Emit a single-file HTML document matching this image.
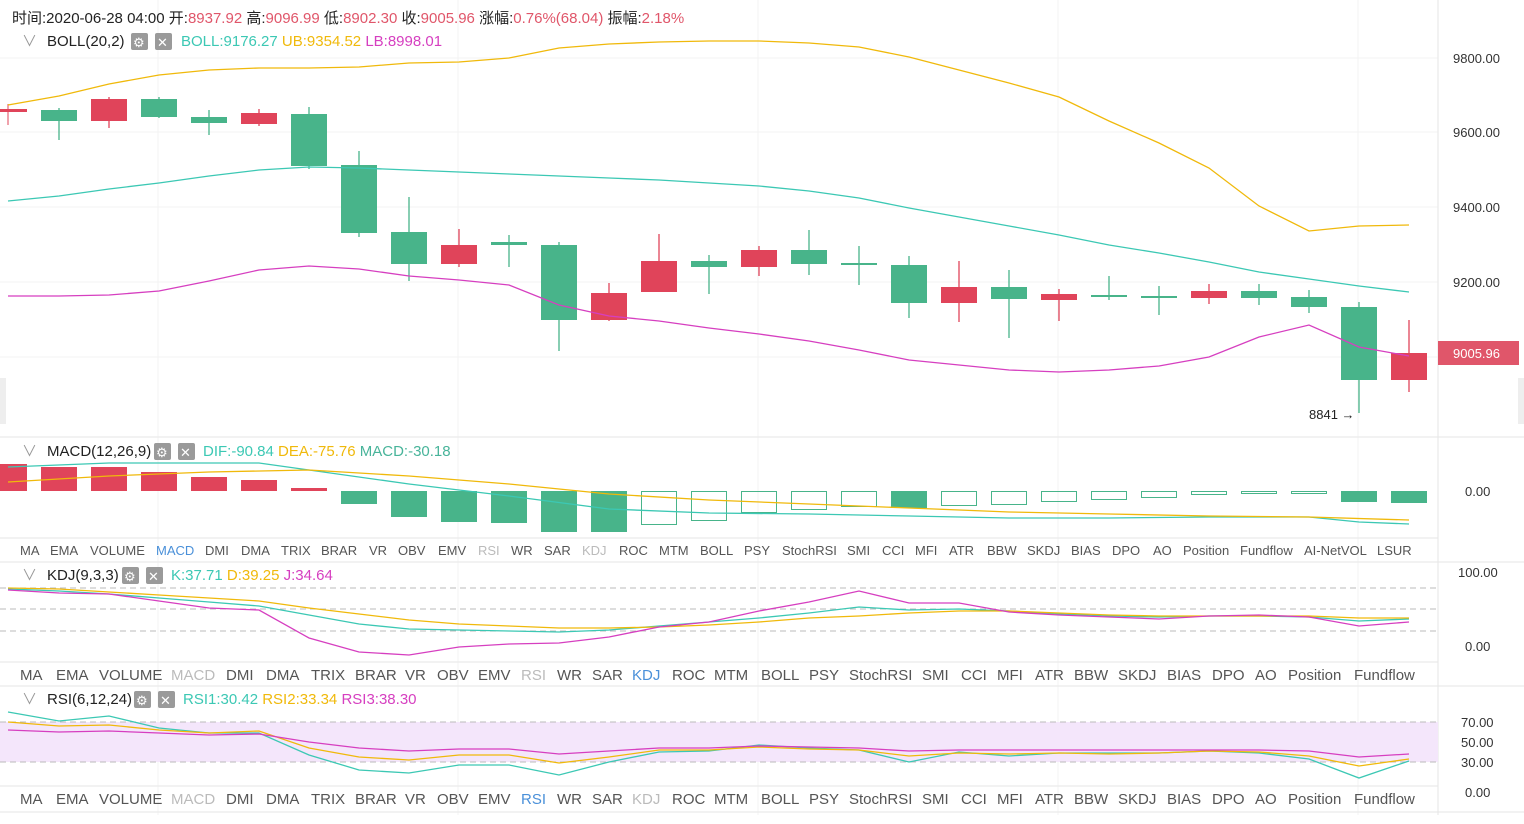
<!DOCTYPE html>
<html><head><meta charset="utf-8"><style>
html,body{margin:0;padding:0;background:#fff;}
body{width:1524px;height:819px;overflow:hidden;font-family:"Liberation Sans","Noto Sans CJK SC",sans-serif;}
svg text{font-family:"Liberation Sans","Noto Sans CJK SC",sans-serif;}
</style></head><body>
<svg id="s" width="1524" height="819" xmlns="http://www.w3.org/2000/svg">
<rect width="1524" height="819" fill="#fff"/>
<g stroke="#f3f3f3" stroke-width="1">
<line x1="0" y1="58" x2="1438" y2="58"/><line x1="0" y1="132" x2="1438" y2="132"/><line x1="0" y1="207" x2="1438" y2="207"/><line x1="0" y1="282" x2="1438" y2="282"/><line x1="0" y1="357" x2="1438" y2="357"/>
<line x1="158" y1="0" x2="158" y2="815"/><line x1="458" y1="0" x2="458" y2="815"/><line x1="758" y1="0" x2="758" y2="815"/><line x1="1058" y1="0" x2="1058" y2="815"/><line x1="1358" y1="0" x2="1358" y2="815"/>
</g>
<g stroke="#e6e6e6"><line x1="1438" y1="0" x2="1438" y2="815"/>
<line x1="0" y1="437" x2="1524" y2="437"/><line x1="0" y1="538" x2="1438" y2="538"/><line x1="0" y1="562" x2="1524" y2="562"/>
<line x1="0" y1="662" x2="1438" y2="662"/><line x1="0" y1="686" x2="1524" y2="686"/><line x1="0" y1="786" x2="1438" y2="786"/><line x1="0" y1="812" x2="1524" y2="812"/></g>
<rect x="0" y="722" width="1438" height="40" fill="#f4e6fb"/>
<g stroke="#bbb" stroke-dasharray="6,4"><line x1="0" y1="722" x2="1438" y2="722"/><line x1="0" y1="762" x2="1438" y2="762"/>
<line x1="0" y1="588" x2="1438" y2="588"/><line x1="0" y1="609" x2="1438" y2="609"/><line x1="0" y1="631" x2="1438" y2="631"/></g>
<g id="cand"></g>
<g fill="none" stroke-width="1.3">
<polyline stroke="#f0b90b" points="8,105 59,96 109,84 159,75 209,70 259,68 309,68 359,67 409,63 459,62 509,58 559,48 609,44 659,42 709,41 759,41 809,43 859,47 909,57 959,70 1009,83 1059,97 1109,121 1159,143 1209,168 1259,206 1309,231 1359,226 1409,225"/>
<polyline stroke="#3cc8b4" points="8,201 59,196 109,189 159,183 209,176 259,170 309,167 359,168 409,170 459,172 509,174 559,176 609,178 659,180 709,183 759,186 809,191 859,198 909,208 959,217 1009,226 1059,235 1109,245 1159,253 1209,262 1259,272 1309,279 1359,286 1409,292"/>
<polyline stroke="#d63fc0" points="8,296 59,296 109,295 159,291 209,281 259,270 309,266 359,269 409,276 459,280 509,285 559,305 609,316 659,321 709,328 759,334 809,341 859,350 909,360 959,365 1009,370 1059,372 1109,370 1159,366 1209,357 1259,337 1309,325 1359,347 1409,356"/>
<polyline stroke="#3cc8b4" points="8,467 109,463 209,463 259,463 309,470 409,484 509,496 609,509 709,513 809,514 909,516 1009,518 1109,518 1209,517 1309,517 1359,522 1409,524"/>
<polyline stroke="#f0b90b" points="8,482 109,476 209,472 309,470 409,476 509,484 609,494 709,500 809,504 909,508 1009,512 1109,514 1209,516 1309,517 1409,520"/>
<polyline stroke="#3cc8b4" points="8,589 59,591 109,594 159,598 209,602 259,606 309,615 359,624 409,629 459,630 509,631 559,632 609,630 659,626 709,622 759,618 809,613 859,607 909,610 959,609 1009,611 1059,614 1109,616 1159,617 1209,616 1259,616 1309,617 1359,621 1409,619"/>
<polyline stroke="#f0b90b" points="8,588 59,589 109,592 159,595 209,598 259,601 309,608 359,614 409,620 459,624 509,626 559,628 609,628 659,627 709,625 759,622 809,618 859,616 909,613 959,611 1009,611 1059,613 1109,615 1159,616 1209,616 1259,616 1309,616 1359,618 1409,618"/>
<polyline stroke="#d63fc0" points="8,590 59,593 109,594 159,601 209,608 259,610 309,638 359,652 409,655 459,647 509,644 559,643 609,637 659,627 709,622 759,611 809,602 859,591 909,603 959,603 1009,612 1059,615 1109,617 1159,619 1209,616 1259,615 1309,617 1359,626 1409,622"/>
<polyline stroke="#3cc8b4" points="8,712 59,721 109,716 159,728 209,733 259,733 309,755 359,770 409,773 459,765 509,765 559,775 609,762 659,752 709,751 759,745 809,748 859,750 909,762 959,752 1009,756 1059,753 1109,753 1159,753 1209,751 1259,753 1309,759 1359,778 1409,761"/>
<polyline stroke="#f0b90b" points="8,722 59,726 109,725 159,730 209,733 259,731 309,748 359,757 409,760 459,755 509,755 559,763 609,757 659,750 709,750 759,747 809,749 859,750 909,756 959,753 1009,754 1059,753 1109,754 1159,753 1209,751 1259,752 1309,756 1359,766 1409,759"/>
<polyline stroke="#d63fc0" points="8,730 59,732 109,731 159,733 209,735 259,734 309,742 359,748 409,751 459,749 509,749 559,754 609,751 659,748 709,748 759,746 809,747 859,748 909,751 959,750 1009,750 1059,750 1109,750 1159,750 1209,750 1259,750 1309,751 1359,757 1409,754"/>
</g>
<g font-size="13" fill="#333">
<text x="1453" y="63">9800.00</text><text x="1453" y="137">9600.00</text><text x="1453" y="212">9400.00</text><text x="1453" y="287">9200.00</text>
<text x="1465" y="496">0.00</text><text x="1458" y="577">100.00</text><text x="1465" y="651">0.00</text>
<text x="1461" y="727">70.00</text><text x="1461" y="747">50.00</text><text x="1461" y="767">30.00</text><text x="1465" y="797">0.00</text>
</g>
<rect x="1438" y="341" width="81" height="24" fill="#e0566a"/>
<text x="1453" y="358" font-size="13" fill="#fff">9005.96</text>
<text x="1309" y="419" font-size="13" fill="#222">8841 →</text>
<g font-size="15">
<text x="12" y="23" fill="#222">时间:2020-06-28 04:00 开:<tspan fill="#e0566a">8937.92</tspan> 高:<tspan fill="#e0566a">9096.99</tspan> 低:<tspan fill="#e0566a">8902.30</tspan> 收:<tspan fill="#e0566a">9005.96</tspan> 涨幅:<tspan fill="#e0566a">0.76%(68.04)</tspan> 振幅:<tspan fill="#e0566a">2.18%</tspan></text>
<text x="22" y="46" fill="#999">∨</text><text x="47" y="46" fill="#222">BOLL(20,2)</text>
<text x="181" y="46" fill="#3cc8b4">BOLL:9176.27 <tspan fill="#f0b90b">UB:9354.52</tspan> <tspan fill="#d63fc0">LB:8998.01</tspan></text>
<text x="22" y="456" fill="#999">∨</text><text x="47" y="456" fill="#222">MACD(12,26,9)</text>
<text x="203" y="456" fill="#3cc8b4">DIF:-90.84 <tspan fill="#f0b90b">DEA:-75.76</tspan> <tspan fill="#48b49a">MACD:-30.18</tspan></text>
<text x="22" y="580" fill="#999">∨</text><text x="47" y="580" fill="#222">KDJ(9,3,3)</text>
<text x="171" y="580" fill="#3cc8b4">K:37.71 <tspan fill="#f0b90b">D:39.25</tspan> <tspan fill="#d63fc0">J:34.64</tspan></text>
<text x="22" y="704" fill="#999">∨</text><text x="47" y="704" fill="#222">RSI(6,12,24)</text>
<text x="183" y="704" fill="#3cc8b4">RSI1:30.42 <tspan fill="#f0b90b">RSI2:33.34</tspan> <tspan fill="#d63fc0">RSI3:38.30</tspan></text>
</g>
<g fill="#9a9a9a">
<rect x="131" y="33" width="17" height="17" rx="2"/><rect x="155" y="33" width="17" height="17" rx="2"/>
<rect x="154" y="443" width="17" height="17" rx="2"/><rect x="178" y="443" width="17" height="17" rx="2"/>
<rect x="122" y="567" width="17" height="17" rx="2"/><rect x="146" y="567" width="17" height="17" rx="2"/>
<rect x="134" y="691" width="17" height="17" rx="2"/><rect x="158" y="691" width="17" height="17" rx="2"/>
</g>
<g font-size="13" fill="#fff"><text x="157" y="47">✕</text><text x="180" y="457">✕</text><text x="148" y="581">✕</text><text x="160" y="705">✕</text>
<text x="133" y="47">⚙</text><text x="156" y="457">⚙</text><text x="124" y="581">⚙</text><text x="136" y="705">⚙</text></g>
<g font-size="13" fill="#555">
<text x="20" y="555">MA</text><text x="50" y="555">EMA</text><text x="90" y="555">VOLUME</text><text x="156" y="555" fill="#4a90d9">MACD</text><text x="205" y="555">DMI</text><text x="241" y="555">DMA</text><text x="281" y="555">TRIX</text><text x="321" y="555">BRAR</text><text x="369" y="555">VR</text><text x="398" y="555">OBV</text><text x="438" y="555">EMV</text><text x="478" y="555" fill="#bbb">RSI</text><text x="511" y="555">WR</text><text x="544" y="555">SAR</text><text x="582" y="555" fill="#bbb">KDJ</text><text x="619" y="555">ROC</text><text x="659" y="555">MTM</text><text x="700" y="555">BOLL</text><text x="744" y="555">PSY</text><text x="782" y="555">StochRSI</text><text x="847" y="555">SMI</text><text x="882" y="555">CCI</text><text x="915" y="555">MFI</text><text x="949" y="555">ATR</text><text x="987" y="555">BBW</text><text x="1027" y="555">SKDJ</text><text x="1071" y="555">BIAS</text><text x="1112" y="555">DPO</text><text x="1153" y="555">AO</text><text x="1183" y="555">Position</text><text x="1240" y="555">Fundflow</text><text x="1304" y="555">AI-NetVOL</text><text x="1377" y="555">LSUR</text>
</g>
<g font-size="15" fill="#555">
<text x="20" y="680">MA</text><text x="56" y="680">EMA</text><text x="99" y="680">VOLUME</text><text x="171" y="680" fill="#bbb">MACD</text><text x="226" y="680">DMI</text><text x="266" y="680">DMA</text><text x="311" y="680">TRIX</text><text x="355" y="680">BRAR</text><text x="405" y="680">VR</text><text x="437" y="680">OBV</text><text x="478" y="680">EMV</text><text x="521" y="680" fill="#bbb">RSI</text><text x="557" y="680">WR</text><text x="592" y="680">SAR</text><text x="632" y="680" fill="#4a90d9">KDJ</text><text x="672" y="680">ROC</text><text x="714" y="680">MTM</text><text x="761" y="680">BOLL</text><text x="809" y="680">PSY</text><text x="849" y="680">StochRSI</text><text x="922" y="680">SMI</text><text x="961" y="680">CCI</text><text x="997" y="680">MFI</text><text x="1035" y="680">ATR</text><text x="1074" y="680">BBW</text><text x="1118" y="680">SKDJ</text><text x="1167" y="680">BIAS</text><text x="1212" y="680">DPO</text><text x="1255" y="680">AO</text><text x="1288" y="680">Position</text><text x="1354" y="680">Fundflow</text>
</g>
<g font-size="15" fill="#555">
<text x="20" y="804">MA</text><text x="56" y="804">EMA</text><text x="99" y="804">VOLUME</text><text x="171" y="804" fill="#bbb">MACD</text><text x="226" y="804">DMI</text><text x="266" y="804">DMA</text><text x="311" y="804">TRIX</text><text x="355" y="804">BRAR</text><text x="405" y="804">VR</text><text x="437" y="804">OBV</text><text x="478" y="804">EMV</text><text x="521" y="804" fill="#4a90d9">RSI</text><text x="557" y="804">WR</text><text x="592" y="804">SAR</text><text x="632" y="804" fill="#bbb">KDJ</text><text x="672" y="804">ROC</text><text x="714" y="804">MTM</text><text x="761" y="804">BOLL</text><text x="809" y="804">PSY</text><text x="849" y="804">StochRSI</text><text x="922" y="804">SMI</text><text x="961" y="804">CCI</text><text x="997" y="804">MFI</text><text x="1035" y="804">ATR</text><text x="1074" y="804">BBW</text><text x="1118" y="804">SKDJ</text><text x="1167" y="804">BIAS</text><text x="1212" y="804">DPO</text><text x="1255" y="804">AO</text><text x="1288" y="804">Position</text><text x="1354" y="804">Fundflow</text>
</g>
<rect x="0" y="378" width="6" height="46" fill="#eee"/><rect x="1518" y="378" width="6" height="46" fill="#eee"/>
</svg>
<script>
var G="#48b48a",R="#e0445a",ns="http://www.w3.org/2000/svg",g=document.getElementById("cand");
function el(t,a){var e=document.createElementNS(ns,t);for(var k in a)e.setAttribute(k,a[k]);g.appendChild(e);}
var c=[[59,'g',110,121,108,140],[109,'r',99,121,97,128],[159,'g',99,117,97,118],[209,'g',117,123,110,135],[259,'r',113,124,109,126],[309,'g',114,166,107,169],[359,'g',165,233,151,237],[409,'g',232,264,197,281],[459,'r',245,264,229,267],[509,'g',242,245,235,267],[559,'g',245,320,242,351],[609,'r',293,320,283,321],[659,'r',261,292,234,292],[709,'g',261,267,255,294],[759,'r',250,267,246,276],[809,'g',250,264,230,275],[859,'g',263,265,246,285],[909,'g',265,303,256,318],[959,'r',287,303,261,322],[1009,'g',287,299,270,338],[1059,'r',294,300,289,321],[1109,'g',295,297,276,300],[1159,'g',296,298,286,315],[1209,'r',291,298,284,304],[1259,'g',291,298,284,305],[1309,'g',297,307,290,313],[1359,'g',307,380,302,413],[1409,'r',353,380,320,392]];
el('rect',{x:0,y:109,width:27,height:3,fill:R});el('line',{x1:8,y1:104,x2:8,y2:125,stroke:R});
c.forEach(function(d){var col=d[1]=='g'?G:R;el('line',{x1:d[0],y1:d[4],x2:d[0],y2:d[5],stroke:col,'stroke-width':1.3});el('rect',{x:d[0]-18,y:d[2],width:36,height:Math.max(2,d[3]-d[2]),fill:col});});
var m=[[8,'r',464],[59,'r',467],[109,'r',467],[159,'r',472],[209,'r',477],[259,'r',480],[309,'r',488],[359,'g',504],[409,'g',517],[459,'g',522],[509,'g',523],[559,'g',532],[609,'g',532],[659,'h',525],[709,'h',521],[759,'h',513],[809,'h',510],[859,'h',507],[909,'g',508],[959,'h',506],[1009,'h',505],[1059,'h',502],[1109,'h',500],[1159,'h',498],[1209,'h',495],[1259,'h',494],[1309,'h',494],[1359,'g',502],[1409,'g',503]];
m.forEach(function(d){var x=d[0]-18,w=36;if(d[0]==8){x=0;w=27;}var y=Math.min(491,d[2]),h=Math.abs(d[2]-491);
if(d[1]=='h')el('rect',{x:x+.5,y:y+.5,width:w-1,height:h-1,fill:'none',stroke:G});else el('rect',{x:x,y:y,width:w,height:h,fill:d[1]=='g'?G:R});});
</script>
</body></html>
